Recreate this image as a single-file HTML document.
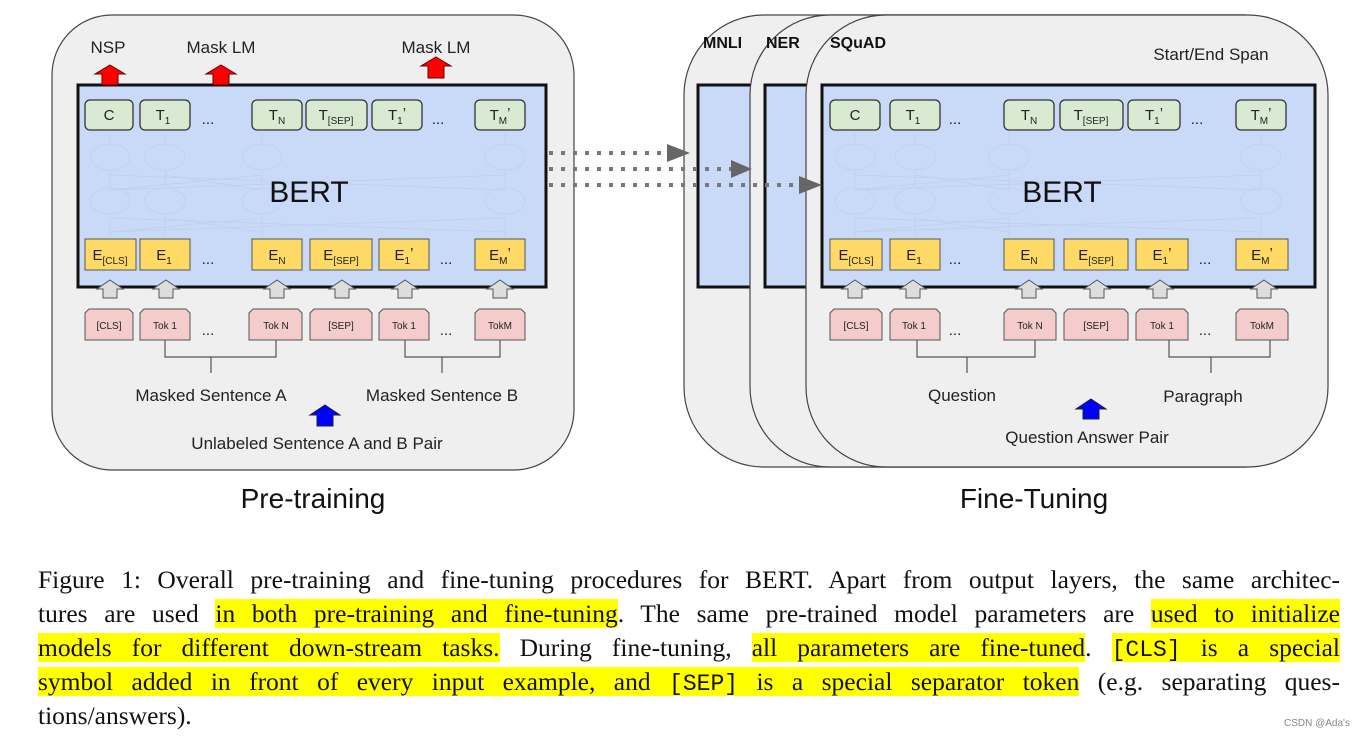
<!DOCTYPE html>
<html><head><meta charset="utf-8"><style>
body{margin:0;width:1365px;height:738px;background:#fff;overflow:hidden;position:relative;font-family:"Liberation Sans",sans-serif}
svg{position:absolute;left:0;top:0}
.cap{position:absolute;left:38px;width:1302px;font-family:"Liberation Serif",serif;font-size:25.5px;line-height:34px;top:563px;color:#111}
.cap div{text-align:justify;text-align-last:justify;white-space:nowrap;height:34px}
.cap div.last{text-align-last:left}
.h{background:#ffff00}
.m{font-family:"Liberation Mono",monospace;font-size:23px}
.g{fill:#d9ead3;stroke:#333;stroke-width:1.3}
.y{fill:#ffd966;stroke:#555;stroke-width:1}
.p{fill:#f4cccc;stroke:#555;stroke-width:1}
.ua{fill:#ddd;stroke:#555;stroke-width:1}
.t{font-size:15px;fill:#222;text-anchor:middle}
.s{font-size:10px}
.k{font-size:10px;fill:#222;text-anchor:middle}
.l{font-size:17px;fill:#222;text-anchor:middle}
.n{fill:none;stroke:#bccbe3;stroke-width:0.8;opacity:0.7}
</style></head><body>
<svg width="1365" height="738" viewBox="0 0 1365 738">
<!-- LEFT PANEL -->
<rect x="52" y="15" width="522" height="455" rx="60" fill="#efefef" stroke="#444" stroke-width="1.2"/>
<rect x="78" y="85" width="468" height="202" fill="#c9daf8" stroke="#111" stroke-width="3"/>
<g class="n">
<ellipse cx="110" cy="157" rx="20" ry="13"/><ellipse cx="165" cy="157" rx="20" ry="13"/><ellipse cx="262" cy="157" rx="20" ry="13"/><ellipse cx="505" cy="157" rx="20" ry="13"/>
<ellipse cx="110" cy="201" rx="20" ry="13"/><ellipse cx="165" cy="201" rx="20" ry="13"/><ellipse cx="262" cy="201" rx="20" ry="13"/><ellipse cx="505" cy="201" rx="20" ry="13"/>
<path d="M110 132V144M165 132V144M262 132V144M505 132V144M110 170V188M165 170V188M262 170V188M505 170V188M110 214V237M165 214V237M262 214V237M505 214V237"/>
<path d="M110 175L505 190M110 190L505 175M165 175L262 190M262 175L110 190M110 218L505 232M110 232L505 218M165 218L262 232M262 218L110 232"/>
</g>
<text x="309" y="202" font-size="30" fill="#111" text-anchor="middle">BERT</text>
<rect class="g" x="85" y="100" width="48" height="30" rx="5"/><text class="t" x="109" y="120">C</text>
<rect class="g" x="140" y="100" width="50" height="30" rx="5"/><text class="t" x="163" y="120">T<tspan class="s" dy="4">1</tspan></text>
<text class="t" x="208" y="124">...</text>
<rect class="g" x="252" y="100" width="50" height="30" rx="5"/><text class="t" x="277" y="120">T<tspan class="s" dy="4">N</tspan></text>
<rect class="g" x="306" y="100" width="61" height="30" rx="5"/><text class="t" x="336" y="120">T<tspan class="s" dy="4">[SEP]</tspan></text>
<rect class="g" x="372" y="100" width="50" height="30" rx="5"/><text class="t" x="397" y="120">T<tspan class="s" dy="4">1</tspan><tspan dy="-6">’</tspan></text>
<text class="t" x="438" y="124">...</text>
<rect class="g" x="475" y="100" width="50" height="30" rx="5"/><text class="t" x="500" y="120">T<tspan class="s" dy="4">M</tspan><tspan dy="-6">’</tspan></text>
<rect class="y" x="85" y="239" width="51" height="31"/><text class="t" x="110" y="260">E<tspan class="s" dy="4">[CLS]</tspan></text>
<rect class="y" x="140" y="239" width="50" height="31"/><text class="t" x="164" y="260">E<tspan class="s" dy="4">1</tspan></text>
<text class="t" x="208" y="264">...</text>
<rect class="y" x="252" y="239" width="50" height="31"/><text class="t" x="277" y="260">E<tspan class="s" dy="4">N</tspan></text>
<rect class="y" x="310" y="239" width="62" height="31"/><text class="t" x="341" y="260">E<tspan class="s" dy="4">[SEP]</tspan></text>
<rect class="y" x="379" y="239" width="50" height="31"/><text class="t" x="404" y="260">E<tspan class="s" dy="4">1</tspan><tspan dy="-6">’</tspan></text>
<text class="t" x="446" y="264">...</text>
<rect class="y" x="475" y="239" width="50" height="31"/><text class="t" x="500" y="260">E<tspan class="s" dy="4">M</tspan><tspan dy="-6">’</tspan></text>
<g class="ua">
<polygon points="110,280 123,289 117,289 117,298 103,298 103,289 97,289"/>
<polygon points="166,280 179,289 173,289 173,298 159,298 159,289 153,289"/>
<polygon points="277,280 290,289 284,289 284,298 270,298 270,289 264,289"/>
<polygon points="342,280 355,289 349,289 349,298 335,298 335,289 329,289"/>
<polygon points="405,280 418,289 412,289 412,298 398,298 398,289 392,289"/>
<polygon points="500,280 513,289 507,289 507,298 493,298 493,289 487,289"/>
</g>
<polygon class="p" points="89,309 129,309 133,313 133,340 85,340 85,313"/><text class="k" x="109" y="329">[CLS]</text>
<polygon class="p" points="144,309 186,309 190,313 190,340 140,340 140,313"/><text class="k" x="165" y="329">Tok 1</text>
<text class="t" x="208" y="335">...</text>
<polygon class="p" points="253,309 298,309 302,313 302,340 249,340 249,313"/><text class="k" x="276" y="329">Tok N</text>
<polygon class="p" points="314,309 368,309 372,313 372,340 310,340 310,313"/><text class="k" x="341" y="329">[SEP]</text>
<polygon class="p" points="383,309 425,309 429,313 429,340 379,340 379,313"/><text class="k" x="404" y="329">Tok 1</text>
<text class="t" x="446" y="335">...</text>
<polygon class="p" points="479,309 521,309 525,313 525,340 475,340 475,313"/><text class="k" x="500" y="329">TokM</text>
<path d="M165 340V357H276V340M211 357V373M405 340V357H500V340M442 357V373" fill="none" stroke="#555" stroke-width="1.2"/>
<text class="l" x="211" y="401">Masked Sentence A</text>
<text class="l" x="442" y="401">Masked Sentence B</text>
<polygon points="325,405 340,415 333,415 333,426 317,426 317,415 310,415" fill="#0000ff" stroke="#223" stroke-width="1"/>
<text class="l" x="317" y="449">Unlabeled Sentence A and B Pair</text>
<text x="313" y="508" font-size="28" fill="#111" text-anchor="middle">Pre-training</text>
<g fill="#ff0000" stroke="#600" stroke-width="1">
<polygon points="110,65 125,74 118,74 118,85 102,85 102,74 95,74"/>
<polygon points="221,65 236,74 229,74 229,85 213,85 213,74 206,74"/>
<polygon points="436,57 451,66 444,66 444,78 428,78 428,66 421,66"/>
<polygon points="1160,72 1175,81 1168,81 1168,95 1152,95 1152,81 1145,81"/>
<polygon points="1211,72 1226,81 1219,81 1219,95 1203,95 1203,81 1196,81"/>
<polygon points="1261,72 1276,81 1269,81 1269,95 1253,95 1253,81 1246,81"/>
</g>
<text class="l" x="108" y="53">NSP</text>
<text class="l" x="221" y="53">Mask LM</text>
<text class="l" x="436" y="53">Mask LM</text>
<!-- RIGHT PANELS -->
<rect x="684" y="15" width="640" height="452" rx="80" fill="#efefef" stroke="#444" stroke-width="1.2"/>
<rect x="698" y="85" width="120" height="202" fill="#c9daf8" stroke="#111" stroke-width="3"/>
<text x="703" y="48" font-size="16" font-weight="bold" fill="#111">MNLI</text>
<rect x="750" y="15" width="574" height="452" rx="80" fill="#efefef" stroke="#444" stroke-width="1.2"/>
<rect x="765" y="85" width="100" height="202" fill="#c9daf8" stroke="#111" stroke-width="3"/>
<text x="766" y="48" font-size="16" font-weight="bold" fill="#111">NER</text>
<rect x="806" y="15" width="522" height="452" rx="80" fill="#efefef" stroke="#444" stroke-width="1.2"/>
<text x="830" y="48" font-size="16" font-weight="bold" fill="#111">SQuAD</text>
<rect x="822" y="85" width="493" height="202" fill="#c9daf8" stroke="#111" stroke-width="3"/>
<g class="n">
<ellipse cx="855" cy="157" rx="20" ry="13"/><ellipse cx="915" cy="157" rx="20" ry="13"/><ellipse cx="1009" cy="157" rx="20" ry="13"/><ellipse cx="1261" cy="157" rx="20" ry="13"/>
<ellipse cx="855" cy="201" rx="20" ry="13"/><ellipse cx="915" cy="201" rx="20" ry="13"/><ellipse cx="1009" cy="201" rx="20" ry="13"/><ellipse cx="1261" cy="201" rx="20" ry="13"/>
<path d="M855 132V144M915 132V144M1009 132V144M1261 132V144M855 170V188M915 170V188M1009 170V188M1261 170V188M855 214V237M915 214V237M1009 214V237M1261 214V237"/>
<path d="M855 175L1261 190M855 190L1261 175M915 175L1009 190M1009 175L855 190M855 218L1261 232M855 232L1261 218M915 218L1009 232M1009 218L855 232"/>
</g>
<text x="1062" y="202" font-size="30" fill="#111" text-anchor="middle">BERT</text>
<text class="l" x="1211" y="60">Start/End Span</text>
<rect class="g" x="830" y="100" width="50" height="30" rx="5"/><text class="t" x="855" y="120">C</text>
<rect class="g" x="890" y="100" width="50" height="30" rx="5"/><text class="t" x="913" y="120">T<tspan class="s" dy="4">1</tspan></text>
<text class="t" x="955" y="124">...</text>
<rect class="g" x="1004" y="100" width="50" height="30" rx="5"/><text class="t" x="1029" y="120">T<tspan class="s" dy="4">N</tspan></text>
<rect class="g" x="1060" y="100" width="63" height="30" rx="5"/><text class="t" x="1091" y="120">T<tspan class="s" dy="4">[SEP]</tspan></text>
<rect class="g" x="1128" y="100" width="52" height="30" rx="5"/><text class="t" x="1154" y="120">T<tspan class="s" dy="4">1</tspan><tspan dy="-6">’</tspan></text>
<text class="t" x="1197" y="124">...</text>
<rect class="g" x="1236" y="100" width="50" height="30" rx="5"/><text class="t" x="1261" y="120">T<tspan class="s" dy="4">M</tspan><tspan dy="-6">’</tspan></text>
<rect class="y" x="830" y="239" width="52" height="31"/><text class="t" x="856" y="260">E<tspan class="s" dy="4">[CLS]</tspan></text>
<rect class="y" x="890" y="239" width="50" height="31"/><text class="t" x="914" y="260">E<tspan class="s" dy="4">1</tspan></text>
<text class="t" x="955" y="264">...</text>
<rect class="y" x="1004" y="239" width="50" height="31"/><text class="t" x="1029" y="260">E<tspan class="s" dy="4">N</tspan></text>
<rect class="y" x="1064" y="239" width="64" height="31"/><text class="t" x="1096" y="260">E<tspan class="s" dy="4">[SEP]</tspan></text>
<rect class="y" x="1136" y="239" width="52" height="31"/><text class="t" x="1162" y="260">E<tspan class="s" dy="4">1</tspan><tspan dy="-6">’</tspan></text>
<text class="t" x="1205" y="264">...</text>
<rect class="y" x="1236" y="239" width="52" height="31"/><text class="t" x="1262" y="260">E<tspan class="s" dy="4">M</tspan><tspan dy="-6">’</tspan></text>
<g class="ua">
<polygon points="855,280 868,289 862,289 862,298 848,298 848,289 842,289"/>
<polygon points="913,280 926,289 920,289 920,298 906,298 906,289 900,289"/>
<polygon points="1029,280 1042,289 1036,289 1036,298 1022,298 1022,289 1016,289"/>
<polygon points="1097,280 1110,289 1104,289 1104,298 1090,298 1090,289 1084,289"/>
<polygon points="1160,280 1173,289 1167,289 1167,298 1153,298 1153,289 1147,289"/>
<polygon points="1264,280 1277,289 1271,289 1271,298 1257,298 1257,289 1251,289"/>
</g>
<polygon class="p" points="834,309 878,309 882,313 882,340 830,340 830,313"/><text class="k" x="856" y="329">[CLS]</text>
<polygon class="p" points="894,309 936,309 940,313 940,340 890,340 890,313"/><text class="k" x="914" y="329">Tok 1</text>
<text class="t" x="955" y="335">...</text>
<polygon class="p" points="1008,309 1052,309 1056,313 1056,340 1004,340 1004,313"/><text class="k" x="1030" y="329">Tok N</text>
<polygon class="p" points="1068,309 1124,309 1128,313 1128,340 1064,340 1064,313"/><text class="k" x="1096" y="329">[SEP]</text>
<polygon class="p" points="1140,309 1184,309 1188,313 1188,340 1136,340 1136,313"/><text class="k" x="1162" y="329">Tok 1</text>
<text class="t" x="1205" y="335">...</text>
<polygon class="p" points="1240,309 1284,309 1288,313 1288,340 1236,340 1236,313"/><text class="k" x="1262" y="329">TokM</text>
<path d="M917 340V357H1035V340M967 357V373M1169 340V357H1270V340M1211 357V373" fill="none" stroke="#555" stroke-width="1.2"/>
<text class="l" x="962" y="401">Question</text>
<text class="l" x="1203" y="402">Paragraph</text>
<polygon points="1091,399 1106,409 1099,409 1099,419 1083,419 1083,409 1076,409" fill="#0000ff" stroke="#223" stroke-width="1"/>
<text class="l" x="1087" y="443">Question Answer Pair</text>
<text x="1034" y="508" font-size="28" fill="#111" text-anchor="middle">Fine-Tuning</text>
<g stroke="#777" stroke-width="4" stroke-dasharray="4,8" fill="none">
<path d="M549 153H668"/><path d="M549 169H732"/><path d="M549 185H800"/>
</g>
<g fill="#666">
<polygon points="667,144 690,153 667,162"/>
<polygon points="731,160 752,169 731,178"/>
<polygon points="799,176 822,185 799,194"/>
</g>
<text x="1284" y="726" font-size="10" fill="#888">CSDN @Ada's</text>
</svg>
<div class="cap">
<div>Figure 1: Overall pre-training and fine-tuning procedures for BERT. Apart from output layers, the same architec-</div>
<div>tures are used <span class="h">in both pre-training and fine-tuning</span>. The same pre-trained model parameters are <span class="h">used to initialize</span></div>
<div><span class="h">models for different down-stream tasks.</span> During fine-tuning, <span class="h">all parameters are fine-tuned</span>. <span class="h"><span class="m">[CLS]</span> is a special</span></div>
<div><span class="h">symbol added in front of every input example, and <span class="m">[SEP]</span> is a special separator token</span> (e.g. separating ques-</div>
<div class="last">tions/answers).</div>
</div>
</body></html>
